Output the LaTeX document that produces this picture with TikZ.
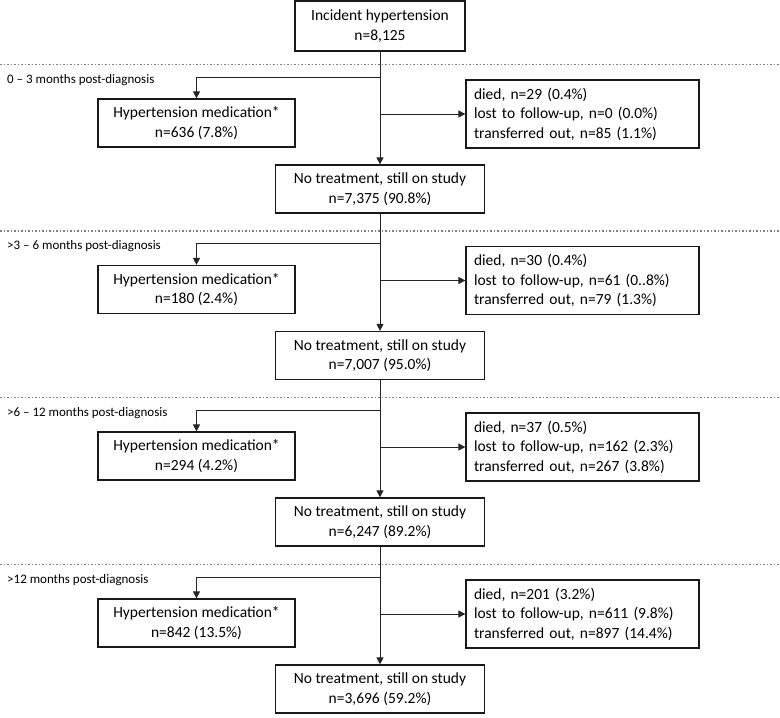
\documentclass[tikz,border=0pt]{standalone}
\usepackage{fontspec}
\setmainfont{Carlito}
\usetikzlibrary{arrows.meta}
\begin{document}
\begin{tikzpicture}[x=1pt,y=-1pt,
 box/.style={draw=black!90, line width=1.2pt, inner sep=0pt, align=center, font=\fontsize{15.5}{19.5}\selectfont},
 topbox/.style={box, minimum width=170pt, minimum height=50pt},
 medbox/.style={box, minimum width=197pt, minimum height=48pt},
 ntbox/.style={box, minimum width=209pt, minimum height=48pt},
 outbox/.style={box, minimum height=68pt, align=left, text width=217pt, inner xsep=8pt},
 phase/.style={anchor=west, inner sep=0pt, font=\fontsize{13}{15}\selectfont},
 sepline/.style={draw=gray, dotted, line width=1.5pt},
 conn/.style={draw=black!85, line width=0.9pt},
 arr/.style={conn, -{Triangle[length=7pt,width=7pt]}}]

\useasboundingbox (0,0) rectangle (780,718);

\node[topbox] (top) at (380,26) {Incident hypertension\\n=8,125};

\foreach \i/\d/\lab/\med/\oa/\ob/\oc/\nt in {
 1/0/{0 -- 3 months post-diagnosis}/{n=636 (7.8\%)}/{died, n=29 (0.4\%)}/{lost to follow-up, n=0 (0.0\%)}/{transferred out, n=85 (1.1\%)}/{n=7,375 (90.8\%)},
 2/166.5/{>3 -- 6 months post-diagnosis}/{n=180 (2.4\%)}/{died, n=30 (0.4\%)}/{lost to follow-up, n=61 (0..8\%)}/{transferred out, n=79 (1.3\%)}/{n=7,007 (95.0\%)},
 3/333/{>6 -- 12 months post-diagnosis}/{n=294 (4.2\%)}/{died, n=37 (0.5\%)}/{lost to follow-up, n=162 (2.3\%)}/{transferred out, n=267 (3.8\%)}/{n=6,247 (89.2\%)},
 4/500/{>12 months post-diagnosis}/{n=842 (13.5\%)}/{died, n=201 (3.2\%)}/{lost to follow-up, n=611 (9.8\%)}/{transferred out, n=897 (14.4\%)}/{n=3,696 (59.2\%)}}
{
 \coordinate (sl\i) at (0,64.5+\d);
 \coordinate (sr\i) at (780,64.5+\d);
 \draw[sepline] (sl\i) -- (sr\i);
 \node[phase] (ph\i) at (7,80+\d) {\lab};
 \coordinate (b\i) at (380,77+\d);
 \coordinate (a\i) at (380,114+\d);
 \node[medbox] (med\i) at (196.5,123+\d) {Hypertension medication*\\\med};
 \node[outbox] (out\i) at (582.5,114+\d) {\oa\\\ob\\\oc};
 \node[ntbox] (nt\i) at (380,189+\d) {No treatment, still on study\\\nt};
 \draw[arr] (b\i) -| (med\i.north);
 \draw[arr] (a\i) -- (a\i -| out\i.west);
}

\draw[arr] (top.south) -- (nt1.north);
\draw[arr] (nt1.south) -- (nt2.north);
\draw[arr] (nt2.south) -- (nt3.north);
\draw[arr] (nt3.south) -- (nt4.north);
\end{tikzpicture}
\end{document}
